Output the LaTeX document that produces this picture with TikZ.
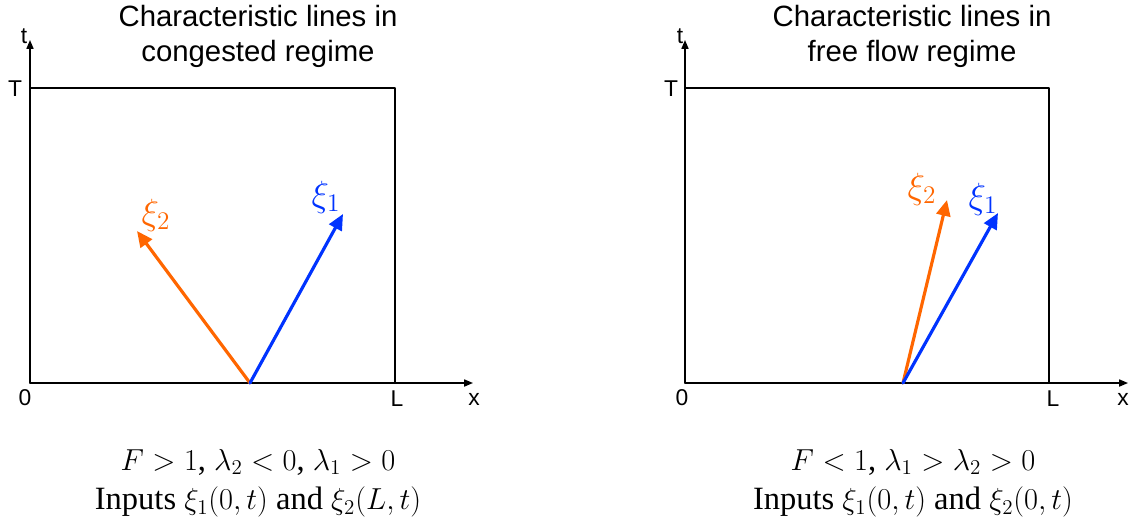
\documentclass[tikz,border=0pt]{standalone}
\usepackage{fontspec}
\setmainfont{Liberation Serif}
\setsansfont{Liberation Sans}
\usetikzlibrary{arrows.meta}
\definecolor{freeorange}{RGB}{255,102,0}
\definecolor{congblue}{RGB}{0,51,255}
\tikzset{
  axis/.style={line width=0.8pt,-{Triangle[length=5pt,width=4pt]}},
  frame/.style={line width=0.8pt},
  charline/.style={line width=1.8pt,-{Triangle[length=9pt,width=8pt]}},
  axlabel/.style={font=\sffamily\fontsize{13}{15}\selectfont,inner sep=0pt},
  title/.style={font=\sffamily\fontsize{16.7}{20}\selectfont,align=center,inner sep=0pt},
  cond/.style={font=\fontsize{18.5}{22.5}\selectfont,align=center,inner sep=0pt},
  xilabel/.style={font=\fontsize{22}{24}\selectfont,inner sep=0pt}
}
\begin{document}
\begin{tikzpicture}[x=0.02cm,y=-0.02cm,line cap=round,line join=round]
  \useasboundingbox (0,0) rectangle (1137,525);
  % congested regime
  \coordinate (O1) at (30,383);
  \coordinate (T1) at (30,88);
  \coordinate (TL1) at (395,88);
  \coordinate (L1) at (395,383);
  \coordinate (X1) at (473,383);
  \coordinate (Y1) at (30,40);
  \coordinate (S1) at (250,383);
  \coordinate (A1) at (343,214);
  \coordinate (B1) at (137,231);
  \draw[axis] (O1) -- (X1);
  \draw[axis] (O1) -- (Y1);
  \draw[frame] (T1) -- (TL1) -- (L1);
  \draw[charline,freeorange] (S1) -- (B1);
  \draw[charline,congblue] (S1) -- (A1);
  \node[axlabel] at (24,36) {t};
  \node[axlabel] at (15,89) {T};
  \node[axlabel] at (25,398) {0};
  \node[axlabel] at (397,399) {L};
  \node[axlabel] at (474,399) {x};
  \node[xilabel,congblue] at (326,197) {$\xi_1$};
  \node[xilabel,freeorange] at (156,215) {$\xi_2$};
  \node[title] at (258,36) {Characteristic lines in\\congested regime};
  \node[cond] at (258,483) {$F>1$, $\lambda_2<0$, $\lambda_1>0$\\Inputs $\xi_1(0,t)$ and $\xi_2(L,t)$};
  % free flow regime
  \coordinate (O2) at (685,383);
  \coordinate (T2) at (685,88);
  \coordinate (TL2) at (1049,88);
  \coordinate (L2) at (1049,383);
  \coordinate (X2) at (1128,383);
  \coordinate (Y2) at (685,40);
  \coordinate (S2) at (903,383);
  \coordinate (A2) at (998,213);
  \coordinate (B2) at (947,200);
  \draw[axis] (O2) -- (X2);
  \draw[axis] (O2) -- (Y2);
  \draw[frame] (T2) -- (TL2) -- (L2);
  \draw[charline,freeorange] (S2) -- (B2);
  \draw[charline,congblue] (S2) -- (A2);
  \node[axlabel] at (680,36) {t};
  \node[axlabel] at (671,89) {T};
  \node[axlabel] at (682,398) {0};
  \node[axlabel] at (1053,399) {L};
  \node[axlabel] at (1123,399) {x};
  \node[xilabel,freeorange] at (922,189) {$\xi_2$};
  \node[xilabel,congblue] at (983,199) {$\xi_1$};
  \node[title] at (912,36) {Characteristic lines in\\free flow regime};
  \node[cond] at (913,483) {$F<1$, $\lambda_1>\lambda_2>0$\\Inputs $\xi_1(0,t)$ and $\xi_2(0,t)$};
\end{tikzpicture}
\end{document}
